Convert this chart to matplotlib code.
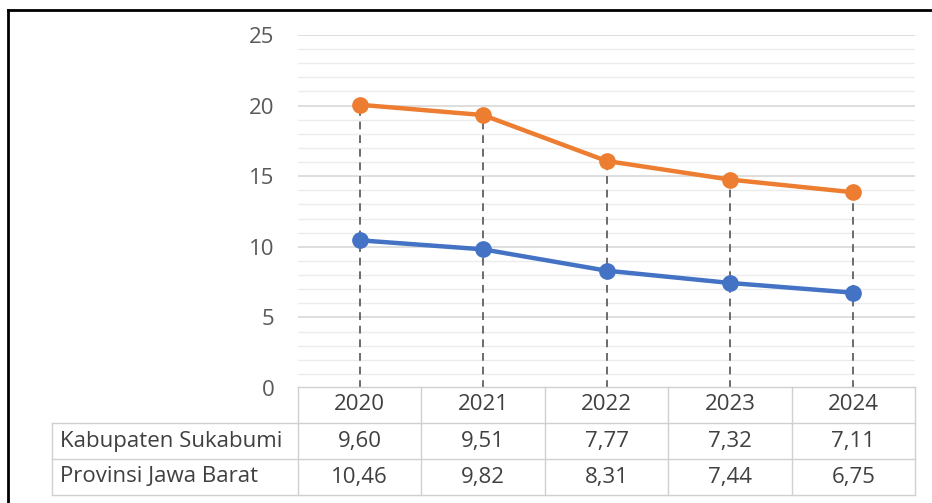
import matplotlib.pyplot as plt
from matplotlib.lines import Line2D
import numpy as np

plt.rcParams['font.family'] = ['Open Sans', 'DejaVu Sans']

### Data ###
years = ['2020', '2021', '2022', '2023', '2024']
kab_sukabumi = [9.60, 9.51, 7.77, 7.32, 7.11]
prov_jabar = [10.46, 9.82, 8.31, 7.44, 6.75]
row_labels = ['Kabupaten Sukabumi', 'Provinsi Jawa Barat']
table_values = [['9,60', '9,51', '7,77', '7,32', '7,11'],
                ['10,46', '9,82', '8,31', '7,44', '6,75']]

# stacked line chart: orange sits on top of blue
stacked = np.array(prov_jabar) + np.array(kab_sukabumi)
x = np.arange(len(years))

W, H = 932, 503
fig = plt.figure(figsize=(W / 100, H / 100), dpi=100)

def px(x0, y0, x1, y1):
    return [x0 / W, 1 - y1 / H, (x1 - x0) / W, (y1 - y0) / H]

FS = 16

ax = fig.add_axes(px(298, 35, 915, 388))
ax.set_xlim(-0.5, 4.5)
ax.set_ylim(0, 25)

# gridlines
for v in np.arange(1, 25):
    if v % 5 == 0:
        continue
    ax.axhline(v, color='#ececec', lw=1, zorder=0)
for v in [5, 10, 15, 20, 25]:
    ax.axhline(v, color='#d4d4d4', lw=1.1, zorder=0)

# drop lines
ax.vlines(x, 0, stacked, colors='#6b6b6b', linestyles=(0, (4, 3)), lw=1.4, zorder=1)

ax.plot(x, prov_jabar, color='#4472C4', lw=3.2, marker='o', ms=11, zorder=3)
ax.plot(x, stacked, color='#ED7D31', lw=3.2, marker='o', ms=11, zorder=3)

ax.set_yticks([0, 5, 10, 15, 20, 25])
ax.tick_params(axis='y', length=0, pad=17, labelsize=FS, labelcolor='#595959')
ax.set_xticks([])
for s in ax.spines.values():
    s.set_visible(False)

# data table
tax = fig.add_axes(px(298, 387, 915, 495))
tax.set_xlim(-0.5, 4.5)
tax.set_ylim(0, 3)
tax.axis('off')
lc = '#d0d0d0'
left = -2.49
tax.plot([-0.5, 4.5], [3, 3], color=lc, lw=1, clip_on=False)
for yv in [0, 1, 2]:
    tax.plot([left, 4.5], [yv, yv], color=lc, lw=1, clip_on=False)
tax.plot([left, left], [0, 2], color=lc, lw=1, clip_on=False)
for xv in np.arange(-0.5, 5, 1):
    tax.plot([xv, xv], [0, 3], color=lc, lw=1, clip_on=False)

tc = '#404040'
for i, yr in enumerate(years):
    tax.text(i, 2.5, yr, ha='center', va='center', fontsize=FS, color=tc)
for r, lab in enumerate(row_labels):
    yc = 1.5 - r
    tax.text(left + 0.06, yc, lab, ha='left', va='center', fontsize=FS, color=tc)
    for i, val in enumerate(table_values[r]):
        tax.text(i, yc, val, ha='center', va='center', fontsize=FS, color=tc)

# frame border (top and left visible)
fig.add_artist(Line2D([8 / W, 1], [1 - 10 / H, 1 - 10 / H], color='black', lw=2))
fig.add_artist(Line2D([8 / W, 8 / W], [0, 1 - 10 / H], color='black', lw=2))

fig.savefig('out.png', dpi=100)
